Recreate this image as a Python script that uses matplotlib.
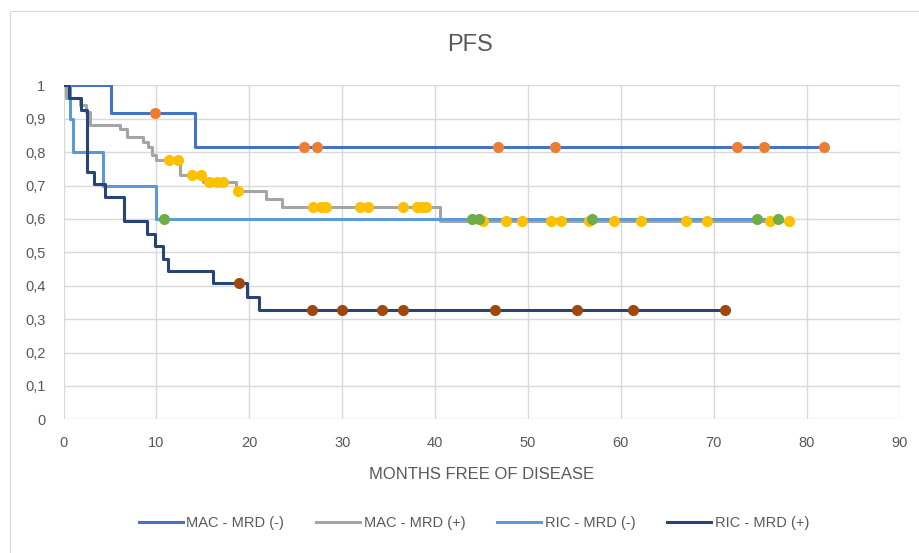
import numpy as np
import matplotlib
matplotlib.use("Agg")
import matplotlib.pyplot as plt
from matplotlib.patches import Rectangle

plt.rcParams['font.family'] = ['Liberation Sans Narrow', 'Liberation Sans', 'DejaVu Sans']

# Kaplan-Meier step data (event times / survival after each step) and censoring times
mac_neg_t = [0, 5.1, 14.2]
mac_neg_s = [1.0, 0.917, 0.815]
mac_neg_end = 81.9
mac_neg_cens = [9.9, 25.9, 27.3, 46.8, 52.9, 72.5, 75.4, 81.9]

mac_pos_t = [0, 0.3, 1.8, 2.4, 2.8, 6.1, 6.8, 8.6, 9.1, 9.5, 10.0, 12.5, 15.0,
             18.6, 21.8, 23.5, 40.5]
mac_pos_s = [1.0, 0.961, 0.941, 0.921, 0.882, 0.870, 0.845, 0.830, 0.815, 0.790,
             0.775, 0.732, 0.709, 0.684, 0.659, 0.635, 0.594]
mac_pos_end = 78.1
mac_pos_cens = [11.4, 12.3, 13.8, 14.8, 15.7, 16.5, 17.2, 18.8, 26.9, 27.7, 28.3,
                31.9, 32.8, 36.5, 38.0, 38.6, 39.0, 45.2, 47.6, 49.4, 52.5, 53.6,
                56.6, 59.3, 62.2, 67.0, 69.3, 76.1, 78.1]

ric_neg_t = [0, 0.67, 1.0, 4.25, 10.0]
ric_neg_s = [1.0, 0.9, 0.8, 0.7, 0.6]
ric_neg_end = 76.9
ric_neg_cens = [10.85, 44.0, 44.7, 56.9, 74.7, 76.9]

ric_pos_t = [0, 0.6, 1.9, 2.5, 3.3, 4.5, 6.5, 8.95, 9.8, 10.7, 11.3, 16.1, 19.8, 21.0]
ric_pos_s = [1.0, 0.963, 0.926, 0.741, 0.704, 0.667, 0.593, 0.556, 0.519, 0.481,
             0.444, 0.407, 0.367, 0.326]
ric_pos_end = 71.2
ric_pos_cens = [18.9, 26.7, 30.0, 34.3, 36.5, 46.4, 55.3, 61.3, 71.2]

series = [
    ("MAC - MRD (-)", mac_neg_t, mac_neg_s, mac_neg_end, mac_neg_cens, "#4472C4", "#ED7D31"),
    ("MAC - MRD (+)", mac_pos_t, mac_pos_s, mac_pos_end, mac_pos_cens, "#A5A5A5", "#FFC000"),
    ("RIC - MRD (-)", ric_neg_t, ric_neg_s, ric_neg_end, ric_neg_cens, "#5B9BD5", "#70AD47"),
    ("RIC - MRD (+)", ric_pos_t, ric_pos_s, ric_pos_end, ric_pos_cens, "#264478", "#9E480E"),
]

W, H = 919, 553
fig = plt.figure(figsize=(W / 100, H / 100), dpi=100)
fig.patch.set_facecolor("white")

# chart-area border
fig.add_artist(Rectangle((10 / W, -0.01), 1.0, 1.0 - 11 / H + 0.01, transform=fig.transFigure,
                         fill=False, edgecolor="#D9D9D9", linewidth=0.8))

x0, x1 = 63.5, 899.6
y1, y0 = 85.3, 419.3
ax = fig.add_axes([x0 / W, 1 - y0 / H, (x1 - x0) / W, (y0 - y1) / H])

ax.set_xlim(0, 90)
ax.set_ylim(0, 1)
ax.set_xticks(np.arange(0, 91, 10))
ax.set_yticks(np.arange(0, 1.01, 0.1))
ax.set_yticklabels(["0"] + ["0,%d" % i for i in range(1, 10)] + ["1"])
ax.grid(True, color="#D9D9D9", linewidth=1.0)
ax.set_axisbelow(True)
for sp in ax.spines.values():
    sp.set_visible(False)
ax.tick_params(length=0, labelsize=10.5, colors="#595959")
ax.tick_params(axis="y", pad=13)
ax.tick_params(axis="x", pad=12)

handles = []
for name, t, s, end, cens, lc, mc in series:
    h, = ax.step(list(t) + [end], list(s) + [s[-1]], where="post", color=lc,
                 linewidth=2.2, label=name, zorder=3)
    handles.append(h)

for zo, (name, t, s, end, cens, lc, mc) in zip([4, 5, 6, 4], series):
    idx = np.searchsorted(t, cens, side="right") - 1
    ax.plot(cens, np.asarray(s)[idx], linestyle="none", marker="o", markersize=8,
            color=mc, markeredgewidth=0, zorder=zo)

fig.text(470 / W, 1 - 45 / H, "PFS", ha="center", va="center", fontsize=17, color="#595959")
ax.set_xlabel("MONTHS FREE OF DISEASE", fontsize=12, color="#595959", labelpad=12)

fig.legend(handles=handles, loc="center", bbox_to_anchor=(474 / W, 1 - 523 / H), ncol=4,
           frameon=False, fontsize=10.5, handlelength=3.0, handletextpad=0.25,
           columnspacing=2.2, labelcolor="#595959")

fig.savefig("out.png", dpi=100, facecolor="white")
